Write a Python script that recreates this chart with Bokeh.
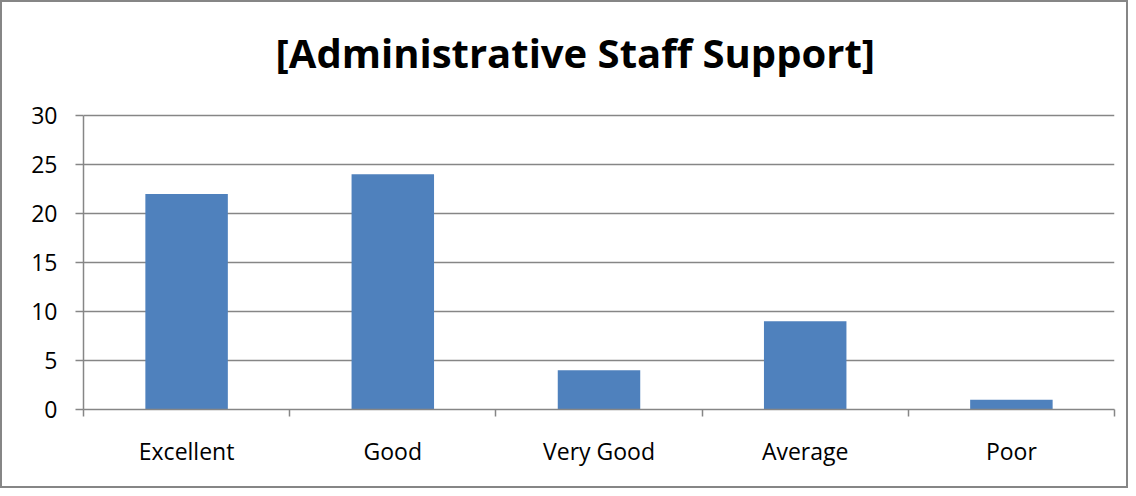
from bokeh.plotting import figure
from bokeh.models import Range1d, FixedTicker, Label
from bokeh.embed import file_html
from bokeh.resources import INLINE

title_text = "[Administrative Staff Support]"
categories = ["Excellent", "Good", "Very Good", "Average", "Poor"]
counts = [22, 24, 4, 9, 1]
y_ticks = [0, 5, 10, 15, 20, 25, 30]
y_max = 30

centers = [i + 0.5 for i in range(len(categories))]
bounds = list(range(len(categories) + 1))

# frame reaches to the top of the canvas; headroom above 30 holds the title
fig_h, border_bottom, plot_px = 488, 81, 294
frame_px = fig_h - border_bottom
y_top = y_max * frame_px / plot_px

p = figure(width=1128, height=fig_h, output_backend="svg", toolbar_location=None,
           x_range=Range1d(0, len(categories)), y_range=Range1d(0, y_top),
           min_border_left=81, min_border_right=16, min_border_bottom=border_bottom,
           min_border_top=0)
p.styles = {"border": "2px solid #868686", "box-sizing": "border-box"}

p.vbar(x=centers, top=counts, width=0.4, bottom=0, color="#4F81BD", line_color=None)

p.add_layout(Label(x=2.385, y=36.4, text=title_text, text_font="Open Sans",
                   text_font_size="40px", text_font_style="bold", text_color="#000000",
                   text_align="center", text_baseline="middle"))

grid_color = "#868686"
p.outline_line_color = None
p.xgrid.grid_line_color = None
p.ygrid.grid_line_color = grid_color
p.ygrid.grid_line_width = 1.5
p.ygrid.ticker = FixedTicker(ticks=y_ticks)

xa = p.xaxis[0]
xa.ticker = FixedTicker(ticks=centers, minor_ticks=bounds)
xa.major_label_overrides = {c: n for c, n in zip(centers, categories)}
xa.major_tick_in = 0
xa.major_tick_out = 0
xa.minor_tick_in = 0
xa.minor_tick_out = 7
xa.minor_tick_line_color = grid_color
xa.minor_tick_line_width = 1.5
xa.axis_line_color = grid_color
xa.axis_line_width = 1.5
xa.major_label_text_font = "Open Sans"
xa.major_label_text_font_size = "23px"
xa.major_label_text_color = "#000000"
xa.major_label_standoff = 18

ya = p.yaxis[0]
ya.ticker = FixedTicker(ticks=y_ticks)
ya.bounds = (0, y_max)
ya.major_tick_in = 0
ya.major_tick_out = 8
ya.minor_tick_line_color = None
ya.major_tick_line_color = grid_color
ya.major_tick_line_width = 1.5
ya.axis_line_color = grid_color
ya.axis_line_width = 1.5
ya.major_label_text_font = "Open Sans"
ya.major_label_text_font_size = "23px"
ya.major_label_text_color = "#000000"
ya.major_label_standoff = 18

open("out.html", "w").write(file_html(p, INLINE))
